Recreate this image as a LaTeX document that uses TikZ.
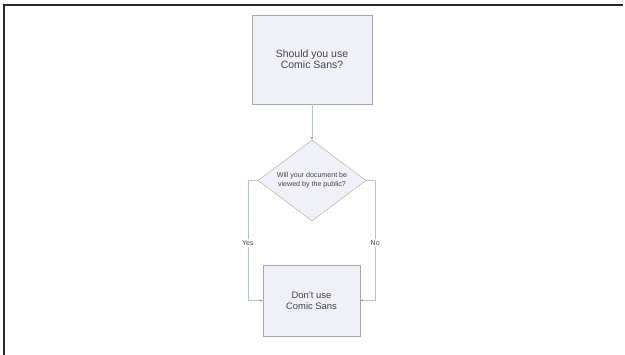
\documentclass[tikz,border=0pt]{standalone}
\usepackage{fontspec}
\setmainfont{Liberation Sans}
\usetikzlibrary{shapes.geometric,arrows.meta}
\definecolor{boxfill}{HTML}{EFF0F8}
\definecolor{boxline}{HTML}{A8A8A8}
\definecolor{flowline}{HTML}{AEC3E4}
\definecolor{flowtip}{HTML}{7F9CCB}
\definecolor{txt}{HTML}{454545}
\begin{document}
\begin{tikzpicture}[x=1pt,y=1pt,
	block/.style={draw=boxline,fill=boxfill,text=txt,align=center,inner sep=0pt},
	decision/.style={diamond,aspect=1.33,draw=boxline,fill=boxfill,text=txt,align=center,inner sep=0pt,minimum width=108pt,minimum height=81pt},
	flow/.style={draw=flowline,line width=0.6pt,-{Latex[length=2.5pt,width=2.5pt,color=flowtip]}},
	lbl/.style={fill=white,text=txt,inner sep=1.5pt,font=\fontsize{7}{8}\selectfont}]
					\useasboundingbox (0,0) rectangle (625,355);
					\draw[line width=1.4pt,color=black!85] (623,350) -- (4,350) -- (4,0);
					\node[block,minimum width=120pt,minimum height=89pt,font=\fontsize{10.5}{11.5}\selectfont] (comic) at (312,295.5) {Should you use\\Comic Sans?};
					\node[decision,font=\fontsize{7.1}{9}\selectfont] (public) at (312,174.5) {Will your document be\\viewed by the public?};
					\node[block,minimum width=97pt,minimum height=71pt,font=\fontsize{9.4}{10.7}\selectfont] (dont) at (311.5,54.5) {Don't use\\Comic Sans};
					\draw[flow] (comic) -- (public);
					\draw[flow] (public.west) -- ++(-10,0) |- node[lbl,pos=0.26] (yes) {Yes} (dont.west);
					\draw[flow] (public.east) -- ++(9,0) |- node[lbl,pos=0.26] (no) {No} (dont.east);
				\end{tikzpicture}
\end{document}
